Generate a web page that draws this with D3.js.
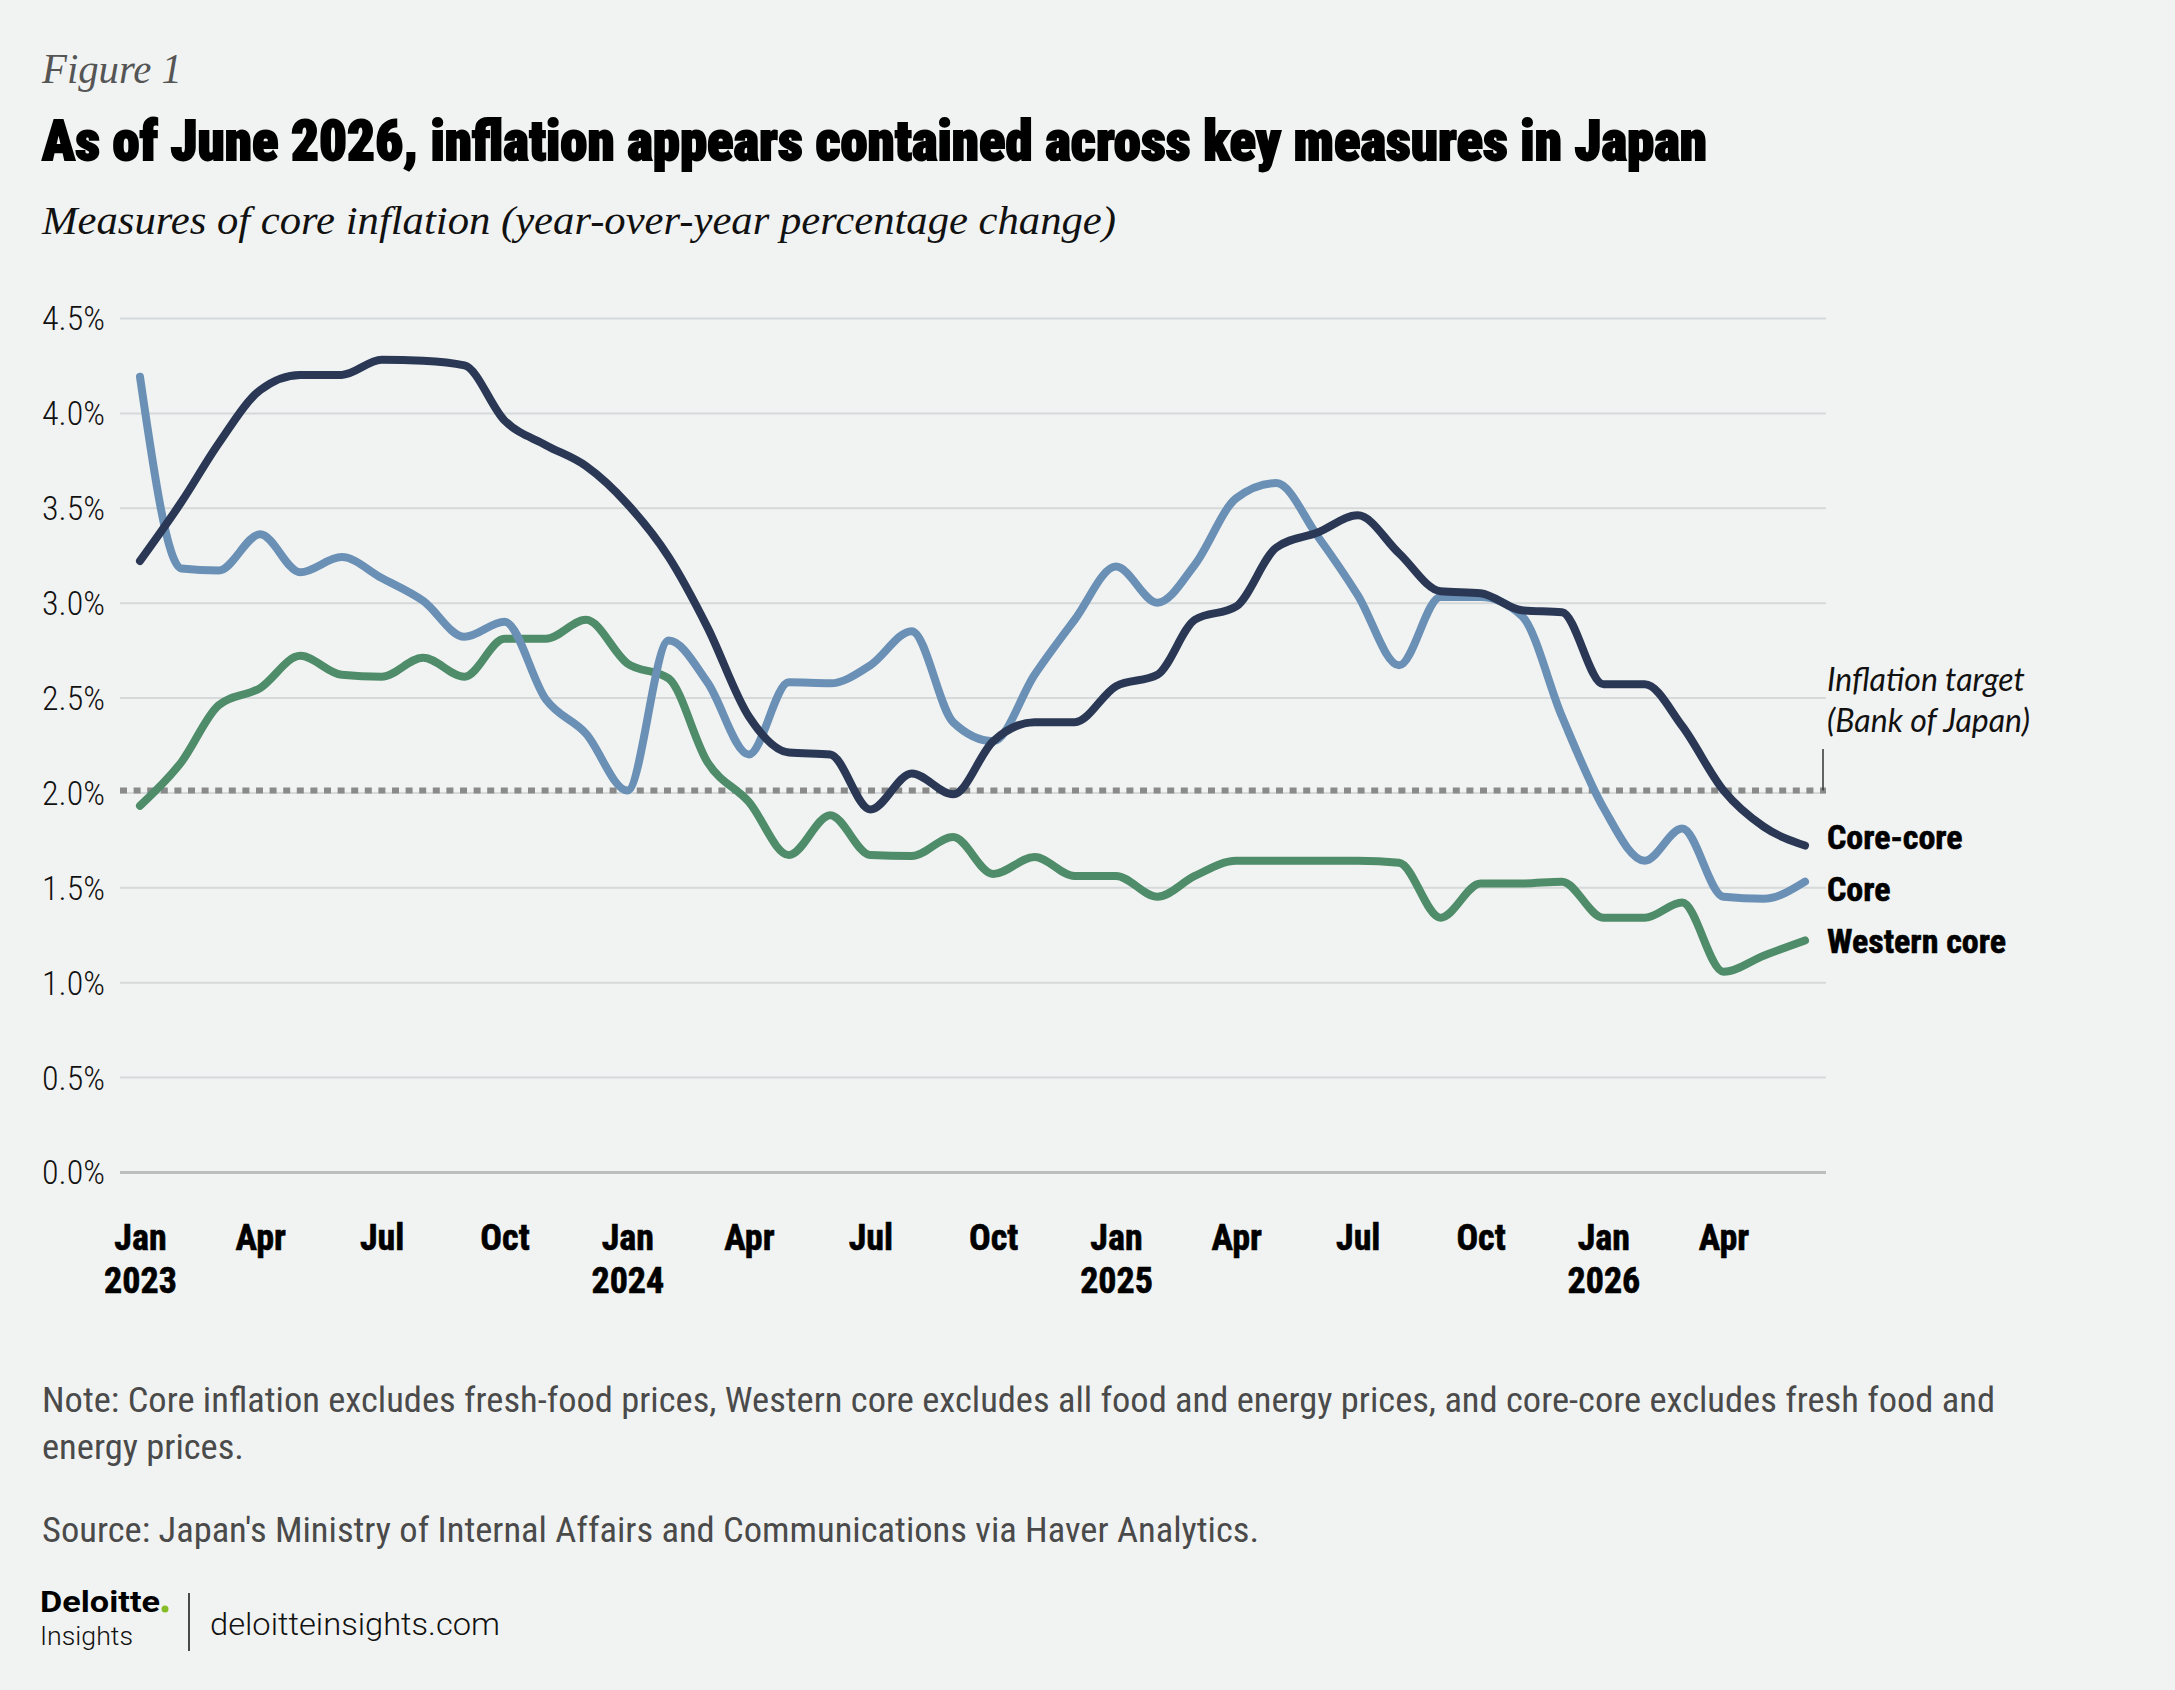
<!DOCTYPE html>
<html>
<head>
<meta charset="utf-8">
<script src="https://cdn.jsdelivr.net/npm/d3@7"></script>
<style>
  html, body { margin: 0; padding: 0; background: #f1f3f2; }
  svg { display: block; }
</style>
</head>
<body>
<div id="chart"></div>
<script>
// Monthly series, Jan 2023 .. Jun 2026 (year-over-year %)
var startMonth = new Date(2023, 0, 1);

var coreCore = [3.22, 3.53, 3.84, 4.12, 4.20, 4.20, 4.28, 4.275, 4.25, 3.96, 3.83, 3.72,
                3.52, 3.24, 2.87, 2.40, 2.21, 2.20, 1.91, 2.10, 1.99, 2.27, 2.37, 2.37,
                2.56, 2.62, 2.91, 2.98, 3.29, 3.37, 3.46, 3.26, 3.06, 3.05, 2.96, 2.95,
                2.57, 2.57, 2.35, 2.01, 1.82, 1.72];

var core = [4.19, 3.18, 3.17, 3.36, 3.16, 3.24, 3.13, 3.01, 2.82, 2.90, 2.49, 2.31,
            2.01, 2.80, 2.58, 2.20, 2.58, 2.575, 2.67, 2.85, 2.37, 2.27, 2.62, 2.91,
            3.19, 3.00, 3.20, 3.55, 3.63, 3.35, 3.04, 2.67, 3.03, 3.03, 2.93, 2.40,
            1.92, 1.64, 1.81, 1.45, 1.44, 1.53];

var westernCore = [1.93, 2.16, 2.46, 2.55, 2.72, 2.62, 2.61, 2.71, 2.61, 2.81, 2.81, 2.91,
                   2.68, 2.60, 2.16, 1.95, 1.67, 1.88, 1.67, 1.665, 1.765, 1.57, 1.66, 1.56,
                   1.56, 1.45, 1.56, 1.64, 1.64, 1.64, 1.64, 1.63, 1.34, 1.52, 1.52, 1.53,
                   1.34, 1.34, 1.42, 1.055, 1.14, 1.22];

var seriesNames = ["Core-core", "Core", "Western core"];
var yTicks = [0, 0.5, 1, 1.5, 2, 2.5, 3, 3.5, 4, 4.5];
var targetValue = 2.0;

var noteLines = [
    "Note: Core inflation excludes fresh-food prices, Western core excludes all food and energy prices, and core-core excludes fresh food and",
    "energy prices."
];
var sourceText = "Source: Japan's Ministry of Internal Affairs and Communications via Haver Analytics.";

function init() {
    var width = 2175;
    var height = 1690;
    var condensed = "'Liberation Sans Narrow', 'Roboto Condensed', 'Arial Narrow', Roboto, sans-serif";

    var svg = d3.select("#chart")
        .append("svg")
        .attr("width", width)
        .attr("height", height);

    svg.append("rect")
        .attr("width", width)
        .attr("height", height)
        .attr("fill", "#f1f3f2");

    // Header
    svg.append("text")
        .attr("x", 42).attr("y", 83)
        .attr("font-family", "'Liberation Serif', 'DejaVu Serif', serif")
        .attr("font-style", "italic")
        .attr("font-size", 42)
        .attr("fill", "#555")
        .attr("textLength", 140)
        .attr("lengthAdjust", "spacingAndGlyphs")
        .text("Figure 1");

    svg.append("text")
        .attr("x", 42).attr("y", 160)
        .attr("font-family", condensed)
        .attr("font-weight", 900)
        .attr("font-size", 56)
        .attr("fill", "#000")
        .attr("textLength", 1665)
        .attr("lengthAdjust", "spacingAndGlyphs")
        .style("stroke", "#000").style("stroke-width", 1.8)
        .text("As of June 2026, inflation appears contained across key measures in Japan");

    svg.append("text")
        .attr("x", 42).attr("y", 234)
        .attr("font-family", "'Liberation Serif', 'DejaVu Serif', serif")
        .attr("font-style", "italic")
        .attr("font-size", 40)
        .attr("fill", "#111")
        .attr("textLength", 1074)
        .attr("lengthAdjust", "spacingAndGlyphs")
        .text("Measures of core inflation (year-over-year percentage change)");

    // Scales
    var months = d3.timeMonth.range(startMonth, d3.timeMonth.offset(startMonth, coreCore.length));

    var x = d3.scaleTime()
        .domain([months[0], months[months.length - 1]])
        .range([140, 1805]);

    var y = d3.scaleLinear()
        .domain([0, 4.5])
        .range([1172, 318]);

    var gridLeft = 120;
    var gridRight = 1826;

    // Y axis with gridlines
    var yAxis = svg.append("g")
        .attr("transform", "translate(" + gridLeft + ",0)")
        .call(d3.axisLeft(y)
            .tickValues(yTicks)
            .tickSize(-(gridRight - gridLeft))
            .tickPadding(15)
            .tickFormat(function (d) { return d3.format(".1f")(d) + "%"; }));

    yAxis.select(".domain").remove();
    yAxis.selectAll(".tick line")
        .attr("stroke", function (d) { return d === 0 ? "#bcbebe" : "#d6d9d9"; })
        .attr("stroke-width", function (d) { return d === 0 ? 3 : 2; });
    yAxis.selectAll(".tick text")
        .attr("font-family", condensed)
        .attr("font-weight", 300)
        .attr("font-size", 34)
        .attr("fill", "#111")
        .attr("dy", "0.35em");

    // X axis labels
    var xAxis = svg.append("g")
        .attr("transform", "translate(0,1172)")
        .call(d3.axisBottom(x)
            .ticks(d3.timeMonth.every(3))
            .tickSize(0)
            .tickFormat(d3.timeFormat("%b")));

    xAxis.select(".domain").remove();
    xAxis.selectAll(".tick text")
        .attr("font-family", condensed)
        .attr("font-weight", 700)
        .attr("font-size", 36)
        .attr("fill", "#000")
        .attr("y", 78)
        .attr("dy", 0)
        .style("stroke", "#000").style("stroke-width", 0.6)
        .each(function (d) {
            if (d.getMonth() === 0) {
                d3.select(this).append("tspan")
                    .attr("x", 0)
                    .attr("dy", 43)
                    .text(d.getFullYear());
            }
        });

    // Inflation target line
    svg.append("line")
        .attr("x1", gridLeft).attr("x2", gridRight)
        .attr("y1", y(targetValue) - 2).attr("y2", y(targetValue) - 2)
        .attr("stroke", "#8a8a8a")
        .attr("stroke-width", 6)
        .attr("stroke-dasharray", "7,6.6");

    svg.append("line")
        .attr("x1", 1823).attr("x2", 1823)
        .attr("y1", 749).attr("y2", y(targetValue) - 2)
        .attr("stroke", "#333")
        .attr("stroke-width", 1.5);

    var targetLabel = svg.append("text")
        .attr("x", 1827)
        .attr("font-family", "Lato, 'Open Sans', sans-serif")
        .attr("font-style", "italic")
        .attr("font-size", 32)
        .attr("fill", "#111");
    targetLabel.append("tspan").attr("x", 1827).attr("y", 691).text("Inflation target");
    targetLabel.append("tspan").attr("x", 1827).attr("y", 732).text("(Bank of Japan)");

    // Lines
    var series = [
        { name: seriesNames[2], values: westernCore, color: "#4f8c69" },
        { name: seriesNames[1], values: core, color: "#6b90b6" },
        { name: seriesNames[0], values: coreCore, color: "#2a3855" }
    ];

    var line = d3.line()
        .x(function (d, i) { return x(months[i]); })
        .y(function (d) { return y(d); })
        .curve(d3.curveMonotoneX);

    svg.selectAll("path.series")
        .data(series)
        .enter()
        .append("path")
        .attr("class", "series")
        .attr("fill", "none")
        .attr("stroke", function (d) { return d.color; })
        .attr("stroke-width", 8)
        .attr("stroke-linecap", "round")
        .attr("stroke-linejoin", "round")
        .attr("d", function (d) { return line(d.values); });

    // Series labels at line ends
    var labelY = { "Core-core": 849, "Core": 901, "Western core": 953 };
    svg.selectAll("text.series-label")
        .data(series)
        .enter()
        .append("text")
        .attr("class", "series-label")
        .attr("x", 1827)
        .attr("y", function (d) { return labelY[d.name]; })
        .attr("font-family", condensed)
        .attr("font-weight", 700)
        .attr("font-size", 34)
        .attr("fill", "#000")
        .style("stroke", "#000").style("stroke-width", 0.6)
        .text(function (d) { return d.name; });

    // Notes
    svg.append("text")
        .attr("x", 42).attr("y", 1412)
        .attr("font-family", condensed)
        .attr("font-size", 35)
        .attr("fill", "#4a4a4a")
        .attr("textLength", 1953)
        .attr("lengthAdjust", "spacingAndGlyphs")
        .text(noteLines[0]);

    svg.append("text")
        .attr("x", 42).attr("y", 1459)
        .attr("font-family", condensed)
        .attr("font-size", 35)
        .attr("fill", "#4a4a4a")
        .attr("textLength", 202)
        .attr("lengthAdjust", "spacingAndGlyphs")
        .text(noteLines[1]);

    svg.append("text")
        .attr("x", 42).attr("y", 1542)
        .attr("font-family", condensed)
        .attr("font-size", 35)
        .attr("fill", "#4a4a4a")
        .attr("textLength", 1217)
        .attr("lengthAdjust", "spacingAndGlyphs")
        .text(sourceText);

    // Footer logo
    svg.append("text")
        .attr("x", 40).attr("y", 1612)
        .attr("font-family", "Roboto, sans-serif")
        .attr("font-weight", 700)
        .attr("font-size", 29)
        .attr("fill", "#000")
        .attr("textLength", 120)
        .attr("lengthAdjust", "spacingAndGlyphs")
        .text("Deloitte");
    svg.append("circle")
        .attr("cx", 165).attr("cy", 1609)
        .attr("r", 3.5)
        .attr("fill", "#86bc25");

    svg.append("text")
        .attr("x", 40).attr("y", 1645)
        .attr("font-family", "Roboto, sans-serif")
        .attr("font-weight", 300)
        .attr("font-size", 26)
        .attr("fill", "#111")
        .attr("textLength", 93)
        .attr("lengthAdjust", "spacingAndGlyphs")
        .text("Insights");

    svg.append("line")
        .attr("x1", 189).attr("x2", 189)
        .attr("y1", 1593).attr("y2", 1651)
        .attr("stroke", "#111")
        .attr("stroke-width", 1.5);

    svg.append("text")
        .attr("x", 210).attr("y", 1635)
        .attr("font-family", "Roboto, 'Open Sans', sans-serif")
        .attr("font-weight", 300)
        .attr("font-size", 32)
        .attr("fill", "#111")
        .attr("textLength", 290)
        .attr("lengthAdjust", "spacingAndGlyphs")
        .text("deloitteinsights.com");
}

window.onload = init;
</script>
</body>
</html>
